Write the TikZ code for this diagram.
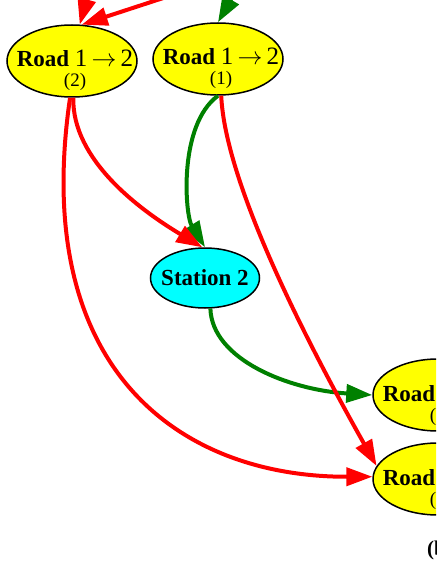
\documentclass[tikz,border=0pt]{standalone}
\usepackage{fontspec}
\setmainfont{Liberation Serif}
\usetikzlibrary{arrows.meta, shapes.geometric, positioning}
\definecolor{rdred}   {RGB}{255,0,0}
\definecolor{rdgreen} {RGB}{0,128,0}
\definecolor{rdyellow}{RGB}{255,255,0}
\definecolor{stcyan}  {RGB}{0,255,255}
\tikzset{
  road/.style={ellipse, draw=black, line width=1.5pt, fill=rdyellow,
               minimum width=130pt, minimum height=72pt, inner sep=0pt},
  station/.style={ellipse, draw=black, line width=1.5pt, fill=stcyan,
               minimum width=109pt, minimum height=60pt, inner sep=0pt,
               font=\fontsize{23}{26}\selectfont\bfseries},
  redge/.style={draw=rdred, line width=4pt,
               -{Triangle[length=26pt, width=18pt]}},
  gedge/.style={draw=rdgreen, line width=4pt,
               -{Triangle[length=26pt, width=18pt]}}
}
\newcommand\roadlbl[2]{\raisebox{-26pt}[0pt][0pt]{\makebox[0pt]{%
  \hspace{6pt}\fontsize{23}{20}\selectfont
  \begin{tabular}[b]{@{}c@{}}\textbf{Road}
  {\fontsize{25}{20}\selectfont#1}\\
  \fontsize{19}{21}\selectfont(#2)\end{tabular}}}}

\begin{document}
\begin{tikzpicture}[x=1pt, y=-1pt]
  \useasboundingbox (0,0) rectangle (436,564);
  \clip (0,0) rectangle (436,564);

  % nodes
  \node[road] (r2) at (72,61)  {\roadlbl{1\,$\rightarrow$\,2}{2}};
  \node[road] (r1) at (218,59) {\roadlbl{1\,$\rightarrow$\,2}{1}};
  \node[station] (st) at (205,278) {\makebox[0pt]{Station 2}};
  \node[road] (ra) at (438,395) {\roadlbl{2\,$\rightarrow$\,3}{1}};
  \node[road] (rb) at (438,479) {\roadlbl{2\,$\rightarrow$\,3}{2}};
  \node[anchor=base west, inner sep=0pt,
        font=\fontsize{21}{24}\selectfont\bfseries] (cap)
    at (427,555) {(b)};

  % free ends above the picture
  \coordinate (in1) at (95,-30);
  \coordinate (in2) at (200,-14);
  \coordinate (in3) at (245,-25);

  % green edges
  \draw[gedge] (in3) -- (r1.north);
  \draw[gedge] (r1.-90) .. controls (178,125) and (185,215) .. (st.north);
  \draw[gedge] (st.-80) .. controls (212,360) and (290,390) .. (ra.west);

  % red edges
  \draw[redge] (in1) -- (r2.78);
  \draw[redge] (in2) -- (r2.75);
  \draw[redge] (r2.-88) .. controls (72,160) and (140,210) .. (st.95);
  \draw[redge] (r2.-93) .. controls (30,370) and (180,477) .. (rb.178);
  \draw[redge] (r1.-85) .. controls (225,180) and (300,330) .. (rb.168);
\end{tikzpicture}
\end{document}
